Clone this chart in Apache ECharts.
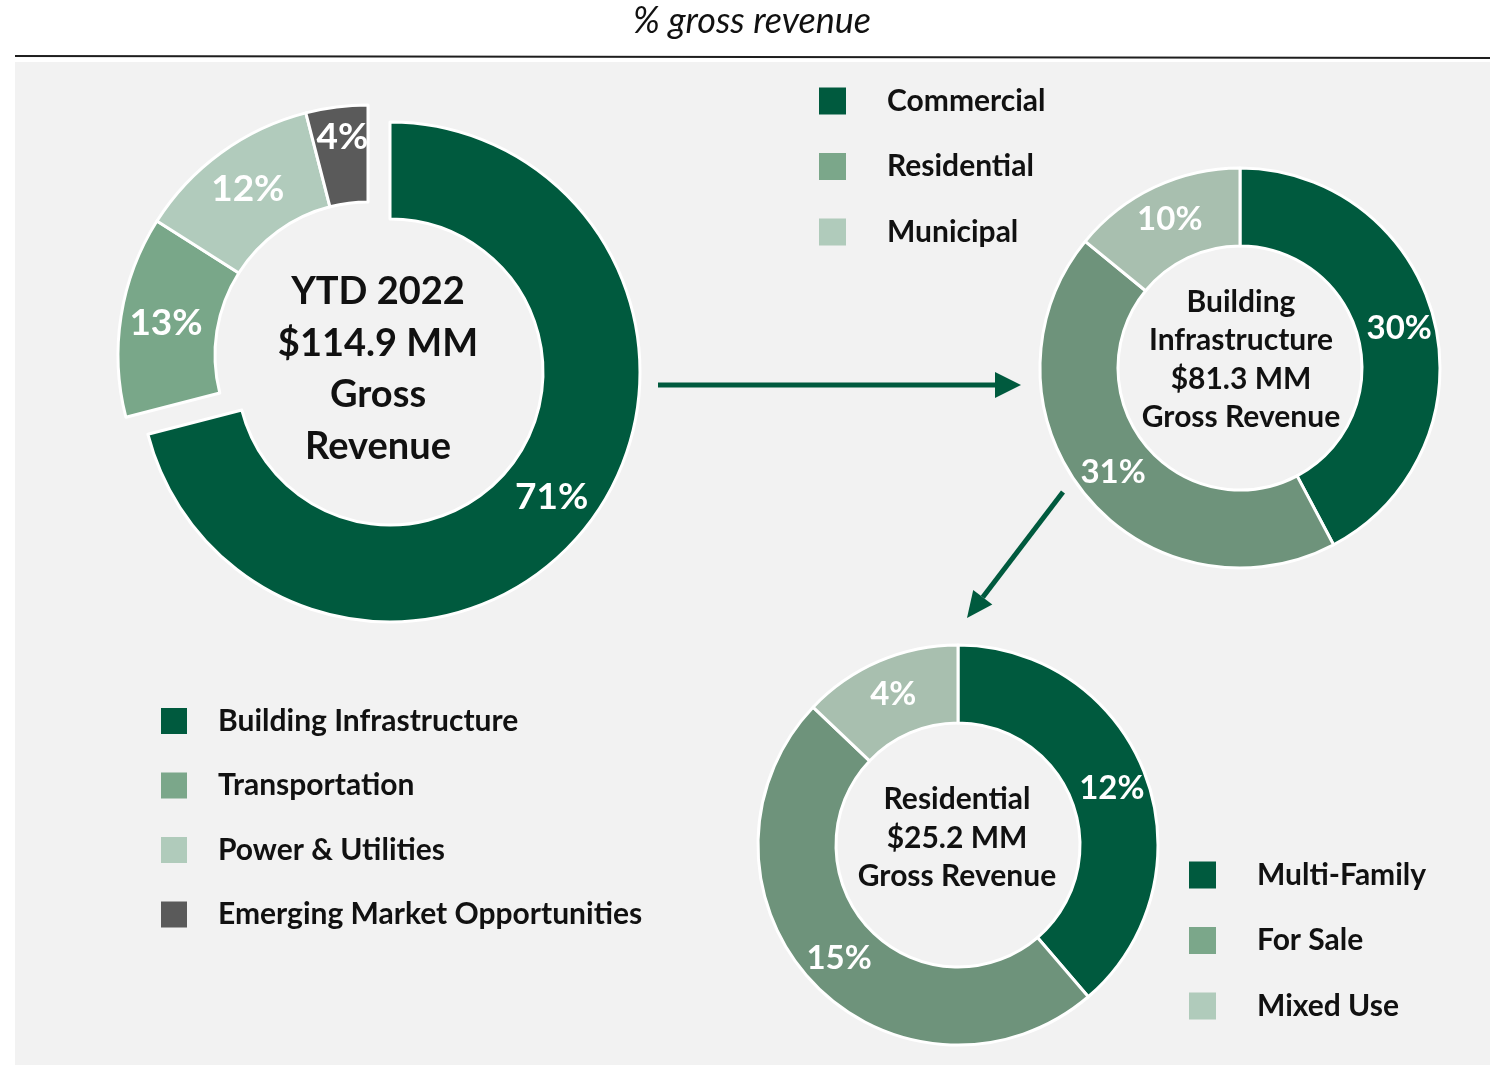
<!DOCTYPE html>
<html>
<head>
<meta charset="utf-8">
<script src="https://cdn.jsdelivr.net/npm/echarts@6/dist/echarts.min.js"></script>
<style>
html,body{margin:0;padding:0;background:#fff;}
#chart{width:1493px;height:1065px;}
</style>
</head>
<body>
<div id="chart"></div>
<script>
// ---- data ----
const chartTitle = '% gross revenue';

const mainNames = ['Building Infrastructure', 'Transportation', 'Power & Utilities', 'Emerging Market Opportunities'];
const mainValues = [71, 13, 12, 4];
const mainCenterText = ['YTD 2022', '$114.9 MM', 'Gross', 'Revenue'];

const biNames = ['Commercial', 'Residential', 'Municipal'];
const biValues = [30, 31, 10];
const biCenterText = ['Building', 'Infrastructure', '$81.3 MM', 'Gross Revenue'];

const resNames = ['Multi-Family', 'For Sale', 'Mixed Use'];
const resValues = [12, 15, 4];
const resCenterText = ['Residential', '$25.2 MM', 'Gross Revenue'];

// ---- styles ----
const FONT = 'Lato';
const DARK = '#005a3e';
const mainColors = [DARK, '#79a789', '#b1cbbc', '#5a5a5a'];
const subColors = [DARK, '#6e937b', '#a8bfaf'];
const legendColors = [DARK, '#7ba78a', '#b0cbbb', '#5a5a5a'];

const chart = echarts.init(document.getElementById('chart'), null, {renderer: 'canvas'});

const labelBase = {show: true, position: 'inside', formatter: '{c}%', color: '#fff', fontFamily: FONT, fontWeight: 'bold'};

function pieData(names, values, colors, hideIdx) {
  return names.map((n, i) => {
    const hidden = hideIdx(i);
    return {
      name: n,
      value: values[i],
      itemStyle: hidden ? {color: 'rgba(0,0,0,0)', borderWidth: 0} : {color: colors[i]},
      label: hidden ? {show: false} : undefined
    };
  });
}

const mainPrimary = pieData(mainNames, mainValues, mainColors, i => i !== 0);
const mainExploded = pieData(mainNames, mainValues, mainColors, i => i === 0);
// the small 4% label sits nearer the outer edge in the original
mainExploded[3].label = {formatter: '{c}%\n', lineHeight: 30};

function legendData(names) {
  return names.map((n, i) => ({name: n, itemStyle: {color: legendColors[i], borderWidth: 0}}));
}

const pieCommon = {
  type: 'pie',
  startAngle: 90,
  clockwise: true,
  avoidLabelOverlap: false,
  minShowLabelAngle: 0,
  labelLine: {show: false},
  emphasis: {disabled: true},
  silent: true,
  itemStyle: {borderColor: '#fff', borderWidth: 3}
};

function legendText(padLeft) {
  return {fontFamily: FONT, fontWeight: 'bold', fontSize: 30, color: '#111', padding: [0, 0, 0, padLeft]};
}

const legendCommon = {
  orient: 'vertical',
  icon: 'rect',
  padding: 0,
  selectedMode: false,
  itemStyle: {borderWidth: 0}
};

const centerTextStyle = (lines, size, lh) => ({
  text: lines.join('\n'),
  font: 'bold ' + size + 'px ' + FONT,
  fill: '#111',
  textAlign: 'center',
  textVerticalAlign: 'middle',
  lineHeight: lh
});

// arrow 2 geometry (diagonal)
const a2s = [1063, 492], a2t = [967, 618];
const dx = a2t[0] - a2s[0], dy = a2t[1] - a2s[1];
const L = Math.hypot(dx, dy), ux = dx / L, uy = dy / L;
const hb = [a2t[0] - ux * 26, a2t[1] - uy * 26];
const px = -uy, py = ux;

const option = {
  animation: false,
  backgroundColor: '#ffffff',
  graphic: [
    {type: 'rect', z: -10, shape: {x: 15, y: 62, width: 1475, height: 1003}, style: {fill: '#f2f2f2'}},
    {type: 'line', z: -5, shape: {x1: 15, y1: 56, x2: 1490, y2: 58}, style: {stroke: '#1e1e1e', lineWidth: 2}},
    {type: 'text', x: 752, y: 21, style: {text: chartTitle, font: 'italic 36px ' + FONT, fill: '#111', textAlign: 'center', textVerticalAlign: 'middle'}},
    {type: 'text', x: 378, y: 369, z: 10, style: centerTextStyle(mainCenterText, 38, 51.5)},
    {type: 'text', x: 1241, y: 360, z: 10, style: centerTextStyle(biCenterText, 30, 38.5)},
    {type: 'text', x: 957, y: 838, z: 10, style: centerTextStyle(resCenterText, 30, 38.5)},
    {type: 'line', shape: {x1: 658, y1: 385, x2: 998, y2: 385}, style: {stroke: DARK, lineWidth: 5}},
    {type: 'polygon', shape: {points: [[995, 372], [1021, 385], [995, 398]]}, style: {fill: DARK}},
    {type: 'line', shape: {x1: a2s[0], y1: a2s[1], x2: hb[0], y2: hb[1]}, style: {stroke: DARK, lineWidth: 5}},
    {type: 'polygon', shape: {points: [[a2t[0], a2t[1]], [hb[0] + px * 12, hb[1] + py * 12], [hb[0] - px * 12, hb[1] - py * 12]]}, style: {fill: DARK}}
  ],
  legend: [
    Object.assign({}, legendCommon, {left: 161, top: 706, itemWidth: 26, itemHeight: 26, itemGap: 34.5,
      data: legendData(mainNames), textStyle: legendText(26)}),
    Object.assign({}, legendCommon, {left: 819, top: 86, itemWidth: 27, itemHeight: 27, itemGap: 35.5,
      data: legendData(biNames), textStyle: legendText(36)}),
    Object.assign({}, legendCommon, {left: 1189, top: 860, itemWidth: 27, itemHeight: 27, itemGap: 35.5,
      data: legendData(resNames), textStyle: legendText(36)})
  ],
  series: [
    Object.assign({}, pieCommon, {name: 'main', center: [390, 372], radius: [153, 250],
      label: Object.assign({}, labelBase, {fontSize: 37}), data: mainPrimary}),
    Object.assign({}, pieCommon, {name: 'mainExploded', center: [368, 355], radius: [153, 250],
      label: Object.assign({}, labelBase, {fontSize: 37}), data: mainExploded}),
    Object.assign({}, pieCommon, {name: 'bi', center: [1240, 368], radius: [122, 200],
      label: Object.assign({}, labelBase, {fontSize: 33}),
      data: pieData(biNames, biValues, subColors, () => false)}),
    Object.assign({}, pieCommon, {name: 'res', center: [958, 845], radius: [122, 200],
      label: Object.assign({}, labelBase, {fontSize: 33}),
      data: pieData(resNames, resValues, subColors, () => false)})
  ]
};
chart.setOption(option);
</script>
</body>
</html>
